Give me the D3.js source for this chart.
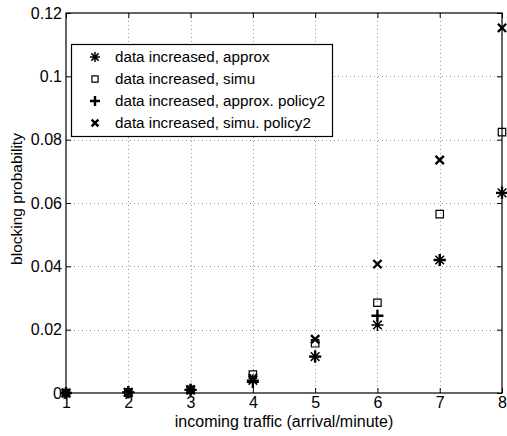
<!DOCTYPE html>
<html>
<head>
<meta charset="utf-8">
<script src="https://cdn.jsdelivr.net/npm/d3@7"></script>
<style>
  body { margin: 0; background: #fff; }
  svg { font-family: "Liberation Sans", Arial, sans-serif; }
</style>
</head>
<body>
<svg id="chart"></svg>
<script>
// data
var traffic = [1, 2, 3, 4, 5, 6, 7, 8];
var approx = [0, 0.0002, 0.001, 0.004, 0.0115, 0.0215, 0.042, 0.0632];
var simu = [0, 0.0002, 0.001, 0.0058, 0.0157, 0.0285, 0.0565, 0.0824];
var approxPolicy2 = [0, 0.0002, 0.001, 0.0035, 0.0115, 0.0244, 0.042, 0.0632];
var simuPolicy2 = [0, 0.0002, 0.001, 0.0047, 0.017, 0.0407, 0.0736, 0.1153];
var xTicks = [1, 2, 3, 4, 5, 6, 7, 8];
var yTicks = [0, 0.02, 0.04, 0.06, 0.08, 0.1, 0.12];
var seriesNames = ["data increased, approx", "data increased, simu",
    "data increased, approx. policy2", "data increased, simu. policy2"];
var seriesValues = [approx, simu, approxPolicy2, simuPolicy2];
var markerTypes = ["star", "square", "plus", "cross"];

function DrawChart() {
    var svgWidth = 507;
    var svgHeight = 436;
    var plotLeft = 66, plotRight = 502, plotTop = 13, plotBottom = 393;

    var svg = d3.select('svg#chart')
        .attr("width", svgWidth)
        .attr("height", svgHeight);

    var x = d3.scaleLinear().domain([1, 8]).range([plotLeft, plotRight]);
    var y = d3.scaleLinear().domain([0, 0.12]).range([plotBottom, plotTop]);

    // grid
    var grid = svg.append('g').attr('class', 'grid')
        .attr('stroke', '#999').attr('stroke-width', 1)
        .attr('stroke-dasharray', '1,3');
    grid.selectAll('line.gx').data(xTicks.slice(1, -1)).enter()
        .append('line')
        .attr('x1', function (d) { return Math.round(x(d)) + 0.5; })
        .attr('x2', function (d) { return Math.round(x(d)) + 0.5; })
        .attr('y1', plotTop).attr('y2', plotBottom);
    grid.selectAll('line.gy').data(yTicks.slice(1, -1)).enter()
        .append('line')
        .attr('y1', function (d) { return Math.round(y(d)) + 0.5; })
        .attr('y2', function (d) { return Math.round(y(d)) + 0.5; })
        .attr('x1', plotLeft).attr('x2', plotRight);

    // axes with inward ticks
    function styleAxis(g) {
        g.select('.domain').remove();
        g.selectAll('.tick line').attr('stroke', '#000');
        g.selectAll('.tick text').attr('fill', '#000').attr('font-size', 16)
            .attr('font-family', '"Liberation Sans", Arial, sans-serif');
    }
    svg.append('g')
        .attr('transform', 'translate(0,' + plotBottom + ')')
        .call(d3.axisBottom(x).tickValues(xTicks).tickFormat(d3.format('d'))
            .tickSizeInner(-5).tickPadding(4))
        .call(styleAxis);
    svg.append('g')
        .attr('transform', 'translate(0,' + plotTop + ')')
        .call(d3.axisTop(x).tickValues(xTicks).tickSizeInner(-5).tickFormat(''))
        .call(styleAxis);
    svg.append('g')
        .attr('transform', 'translate(' + plotLeft + ',0)')
        .call(d3.axisLeft(y).tickValues(yTicks)
            .tickFormat(function (d) { return String(+d.toFixed(2)); })
            .tickSizeInner(-5).tickPadding(4))
        .call(styleAxis);
    svg.append('g')
        .attr('transform', 'translate(' + plotRight + ',0)')
        .call(d3.axisRight(y).tickValues(yTicks).tickSizeInner(-5).tickFormat(''))
        .call(styleAxis);

    // box
    svg.append('rect')
        .attr('x', plotLeft).attr('y', plotTop)
        .attr('width', plotRight - plotLeft).attr('height', plotBottom - plotTop)
        .attr('fill', 'none').attr('stroke', '#000').attr('stroke-width', 1.2);

    // marker paths
    function markerPath(type, s) {
        if (type === 'plus') return 'M' + (-s) + ',0H' + s + 'M0,' + (-s) + 'V' + s;
        if (type === 'cross') {
            var c = s * 0.75;
            return 'M' + (-c) + ',' + (-c) + 'L' + c + ',' + c + 'M' + (-c) + ',' + c + 'L' + c + ',' + (-c);
        }
        if (type === 'square') {
            var q = s * 0.62;
            return 'M' + (-q) + ',' + (-q) + 'H' + q + 'V' + q + 'H' + (-q) + 'Z';
        }
        var k = s * 0.72;
        return 'M' + (-s) + ',0H' + s + 'M0,' + (-s) + 'V' + s +
            'M' + (-k) + ',' + (-k) + 'L' + k + ',' + k + 'M' + (-k) + ',' + k + 'L' + k + ',' + (-k);
    }
    var markerWidth = { star: 1.5, square: 1.2, plus: 2.4, cross: 2.4 };
    var markerSize = { star: 6, square: 6, plus: 6, cross: 5.5 };

    seriesValues.forEach(function (vals, i) {
        var type = markerTypes[i];
        svg.append('g').selectAll('path').data(vals).enter()
            .append('path')
            .attr('d', markerPath(type, markerSize[type]))
            .attr('transform', function (d, j) { return 'translate(' + x(traffic[j]) + ',' + y(d) + ')'; })
            .attr('fill', 'none').attr('stroke', '#000')
            .attr('stroke-width', markerWidth[type]);
    });

    // legend
    var legend = svg.append('g').attr('class', 'legend');
    legend.append('rect')
        .attr('x', 71.5).attr('y', 44.5).attr('width', 261).attr('height', 92)
        .attr('fill', '#fff').attr('stroke', '#000').attr('stroke-width', 1.2);
    var entries = legend.selectAll('g.entry').data(seriesNames).enter()
        .append('g')
        .attr('transform', function (d, i) { return 'translate(0,' + (57 + i * 22) + ')'; });
    entries.append('path')
        .attr('d', function (d, i) { return markerPath(markerTypes[i], i === 3 ? 4.5 : 5); })
        .attr('transform', 'translate(95,0)')
        .attr('fill', 'none').attr('stroke', '#000')
        .attr('stroke-width', function (d, i) { return markerWidth[markerTypes[i]]; });
    entries.append('text')
        .text(function (d) { return d; })
        .attr('x', 115).attr('dy', '0.35em')
        .attr('font-size', 15.2);

    // axis labels
    svg.append('text')
        .text('incoming traffic (arrival/minute)')
        .attr('x', 284).attr('y', 427)
        .attr('text-anchor', 'middle').attr('font-size', 16);
    svg.append('text')
        .text('blocking probability')
        .attr('transform', 'translate(22,199) rotate(-90)')
        .attr('text-anchor', 'middle').attr('font-size', 15.5);
}

DrawChart();
</script>
</body>
</html>
